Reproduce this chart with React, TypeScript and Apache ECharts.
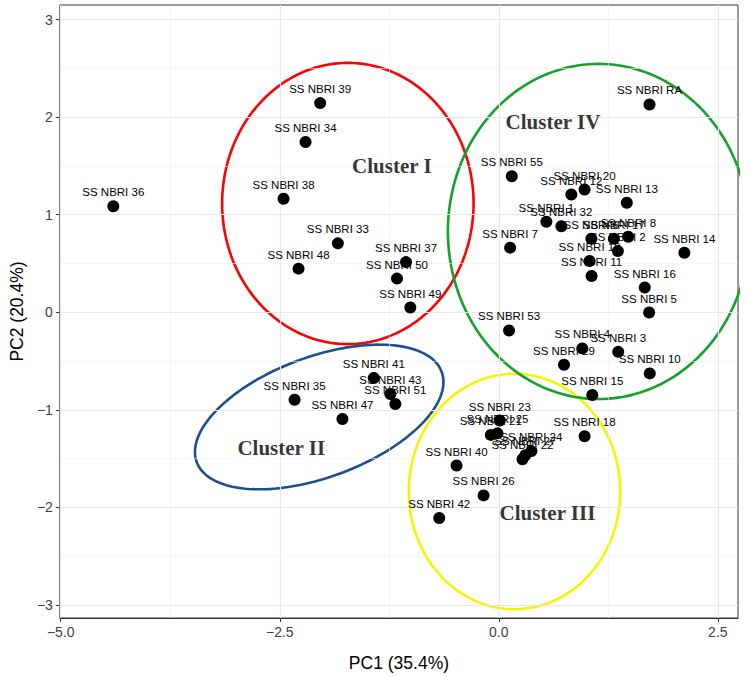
import { useEffect, useRef } from 'react';
import * as echarts from 'echarts';

// ---- data ----
const strainNames = [
  'SS NBRI RA', 'SS NBRI 55', 'SS NBRI 20', 'SS NBRI 12', 'SS NBRI 13', 'SS NBRI 1', 'SS NBRI 32',
  'SS NBRI 6', 'SS NBRI 17', 'SS NBRI 8', 'SS NBRI 2', 'SS NBRI 19', 'SS NBRI 11', 'SS NBRI 7',
  'SS NBRI 14', 'SS NBRI 16', 'SS NBRI 5', 'SS NBRI 53', 'SS NBRI 4', 'SS NBRI 3', 'SS NBRI 29',
  'SS NBRI 10', 'SS NBRI 15', 'SS NBRI 18', 'SS NBRI 23', 'SS NBRI 21', 'SS NBRI 25', 'SS NBRI 24',
  'SS NBRI 27', 'SS NBRI 22', 'SS NBRI 40', 'SS NBRI 26', 'SS NBRI 42', 'SS NBRI 41', 'SS NBRI 43',
  'SS NBRI 51', 'SS NBRI 35', 'SS NBRI 47', 'SS NBRI 39', 'SS NBRI 34', 'SS NBRI 38', 'SS NBRI 33',
  'SS NBRI 48', 'SS NBRI 37', 'SS NBRI 50', 'SS NBRI 49', 'SS NBRI 36',
];
const pc1 = [
  1.72, 0.148, 0.979, 0.828, 1.461, 0.543, 0.714,
  1.056, 1.313, 1.477, 1.359, 1.036, 1.059, 0.129,
  2.118, 1.666, 1.716, 0.117, 0.953, 1.363, 0.744,
  1.723, 1.067, 0.979, 0.011, -0.091, -0.015, 0.372,
  0.302, 0.27, -0.482, -0.174, -0.68, -1.427, -1.238,
  -1.181, -2.331, -1.785, -2.039, -2.206, -2.457, -1.837,
  -2.286, -1.059, -1.162, -1.01, -4.4,
];
const pc2 = [
  2.13, 1.394, 1.258, 1.207, 1.122, 0.927, 0.882,
  0.754, 0.754, 0.774, 0.627, 0.525, 0.371, 0.662,
  0.61, 0.253, -0.003, -0.187, -0.371, -0.406, -0.539,
  -0.627, -0.849, -1.271, -1.111, -1.258, -1.242, -1.424,
  -1.467, -1.508, -1.572, -1.878, -2.109, -0.675, -0.838,
  -0.941, -0.897, -1.094, 2.144, 1.745, 1.163, 0.706,
  0.447, 0.514, 0.345, 0.048, 1.087,
];

const xTicks = [-5, -2.5, 0, 2.5];
const yTicks = [-3, -2, -1, 0, 1, 2, 3];
const xMajorGrid = [-5, -2.5, 0, 2.5];
const xMinorGrid = [-3.75, -1.25, 1.25];
const yMajorGrid = [-3, -2, -1, 0, 1, 2, 3];
const yMinorGrid = [-2.5, -1.5, -0.5, 0.5, 1.5, 2.5];

const clusterNames = ['Cluster I', 'Cluster II', 'Cluster III', 'Cluster IV'];
const clusterLabelX = [-1.221, -2.483, 0.555, 0.618];
const clusterLabelY = [1.496, -1.394, -2.058, 1.946];

// ellipse: centre, first semi-axis vector (U), second semi-axis vector (V)
const ellipseCx = [-1.723, -2.05, 0.179, 1.139];
const ellipseCy = [1.115, -1.074, -1.838, 0.828];
const ellipseUx = [1.435, 1.398, 1.207, 1.72];
const ellipseUy = [0, 0.462, 0, 0];
const ellipseVx = [0, -0.237, 0, 0];
const ellipseVy = [1.442, 0.58, 1.207, 1.718];
const ellipseColors = ['#ff0000', '#1f4f8a', '#f5f500', '#16a02c'];

const fmtMinus = (s: string) => s.replace('-', '\u2212');

function ellipsePoints(i: number): number[][] {
  const pts: number[][] = [];
  const n = 180;
  for (let k = 0; k <= n; k++) {
    const t = (k / n) * Math.PI * 2;
    const c = Math.cos(t);
    const s = Math.sin(t);
    pts.push([
      ellipseCx[i] + c * ellipseUx[i] + s * ellipseVx[i],
      ellipseCy[i] + c * ellipseUy[i] + s * ellipseVy[i],
    ]);
  }
  return pts;
}

export default function App() {
  const ref = useRef<HTMLDivElement>(null);
  useEffect(() => {
    if (!ref.current) return;
    const chart = echarts.init(ref.current, undefined, { renderer: 'svg' });

    const gridSeries = (xs: number[], ys: number[], width: number, color: string) => ({
      type: 'scatter',
      data: [],
      silent: true,
      z: 0,
      markLine: {
        silent: true,
        symbol: ['none', 'none'],
        label: { show: false },
        lineStyle: { color, width, type: 'solid' },
        emphasis: { disabled: true },
        data: [...xs.map((v) => ({ xAxis: v })), ...ys.map((v) => ({ yAxis: v }))],
      },
    });

    const ellipseSeries = clusterNames.map((_, i) => ({
      type: 'line',
      data: ellipsePoints(i),
      showSymbol: false,
      symbol: 'none',
      clip: false,
      silent: true,
      z: 2,
      lineStyle: { color: ellipseColors[i], width: 2.6 },
    }));

    chart.setOption({
      animation: false,
      grid: {
        left: 58.5,
        right: 12,
        top: 5,
        bottom: 57.5,
        show: true,
        borderColor: '#333333',
        borderWidth: 1,
        backgroundColor: 'transparent',
      },
      xAxis: {
        type: 'value',
        min: -5.01,
        max: 2.73,
        splitLine: { show: false },
        axisLine: { onZero: false, lineStyle: { color: '#333333', width: 1 } },
        axisTick: { customValues: xTicks, length: 4, lineStyle: { color: '#333333' } },
        axisLabel: {
          customValues: xTicks,
          formatter: (v: number) => fmtMinus(v.toFixed(1)),
          color: '#404040',
          fontSize: 14,
          fontFamily: 'Liberation Sans',
          margin: 7,
        },
        name: 'PC1 (35.4%)',
        nameLocation: 'middle',
        nameGap: 36,
        nameTextStyle: { fontSize: 17.5, color: '#000', fontFamily: 'Liberation Sans' },
      },
      yAxis: {
        type: 'value',
        min: -3.135,
        max: 3.15,
        splitLine: { show: false },
        axisLine: { onZero: false, lineStyle: { color: '#333333', width: 1 } },
        axisTick: { customValues: yTicks, length: 4, lineStyle: { color: '#333333' } },
        axisLabel: {
          customValues: yTicks,
          formatter: (v: number) => fmtMinus(String(Math.round(v))),
          color: '#404040',
          fontSize: 14,
          fontFamily: 'Liberation Sans',
          margin: 7,
        },
        name: 'PC2 (20.4%)',
        nameLocation: 'middle',
        nameGap: 31,
        nameTextStyle: { fontSize: 17.5, color: '#000', fontFamily: 'Liberation Sans' },
      },
      series: [
        gridSeries(xMinorGrid, yMinorGrid, 0.6, '#f0f0f0'),
        gridSeries(xMajorGrid, yMajorGrid, 1.1, '#e8e8e8'),
        ...ellipseSeries,
        {
          type: 'scatter',
          z: 5,
          symbolSize: 12,
          itemStyle: { color: '#000000', opacity: 1 },
          data: pc1.map((x, i) => [x, pc2[i], strainNames[i]]),
          label: {
            show: true,
            position: 'top',
            distance: 2,
            formatter: (p: any) => p.data[2],
            fontSize: 11.5,
            color: '#000',
            fontFamily: 'Liberation Sans',
          },
        },
        {
          type: 'scatter',
          z: 6,
          symbolSize: 0,
          silent: true,
          itemStyle: { color: 'transparent' },
          data: clusterNames.map((n, i) => [clusterLabelX[i], clusterLabelY[i], n]),
          label: {
            show: true,
            position: 'inside',
            formatter: (p: any) => p.data[2],
            fontSize: 21,
            fontWeight: 'bold',
            color: '#000',
            fontFamily: 'Liberation Serif',
          },
        },
      ],
    });
    return () => chart.dispose();
  }, []);
  return (
    <div
      ref={ref}
      style={{ position: 'fixed', left: 0, top: 0, width: 750, height: 677, background: '#fff' }}
    />
  );
}
